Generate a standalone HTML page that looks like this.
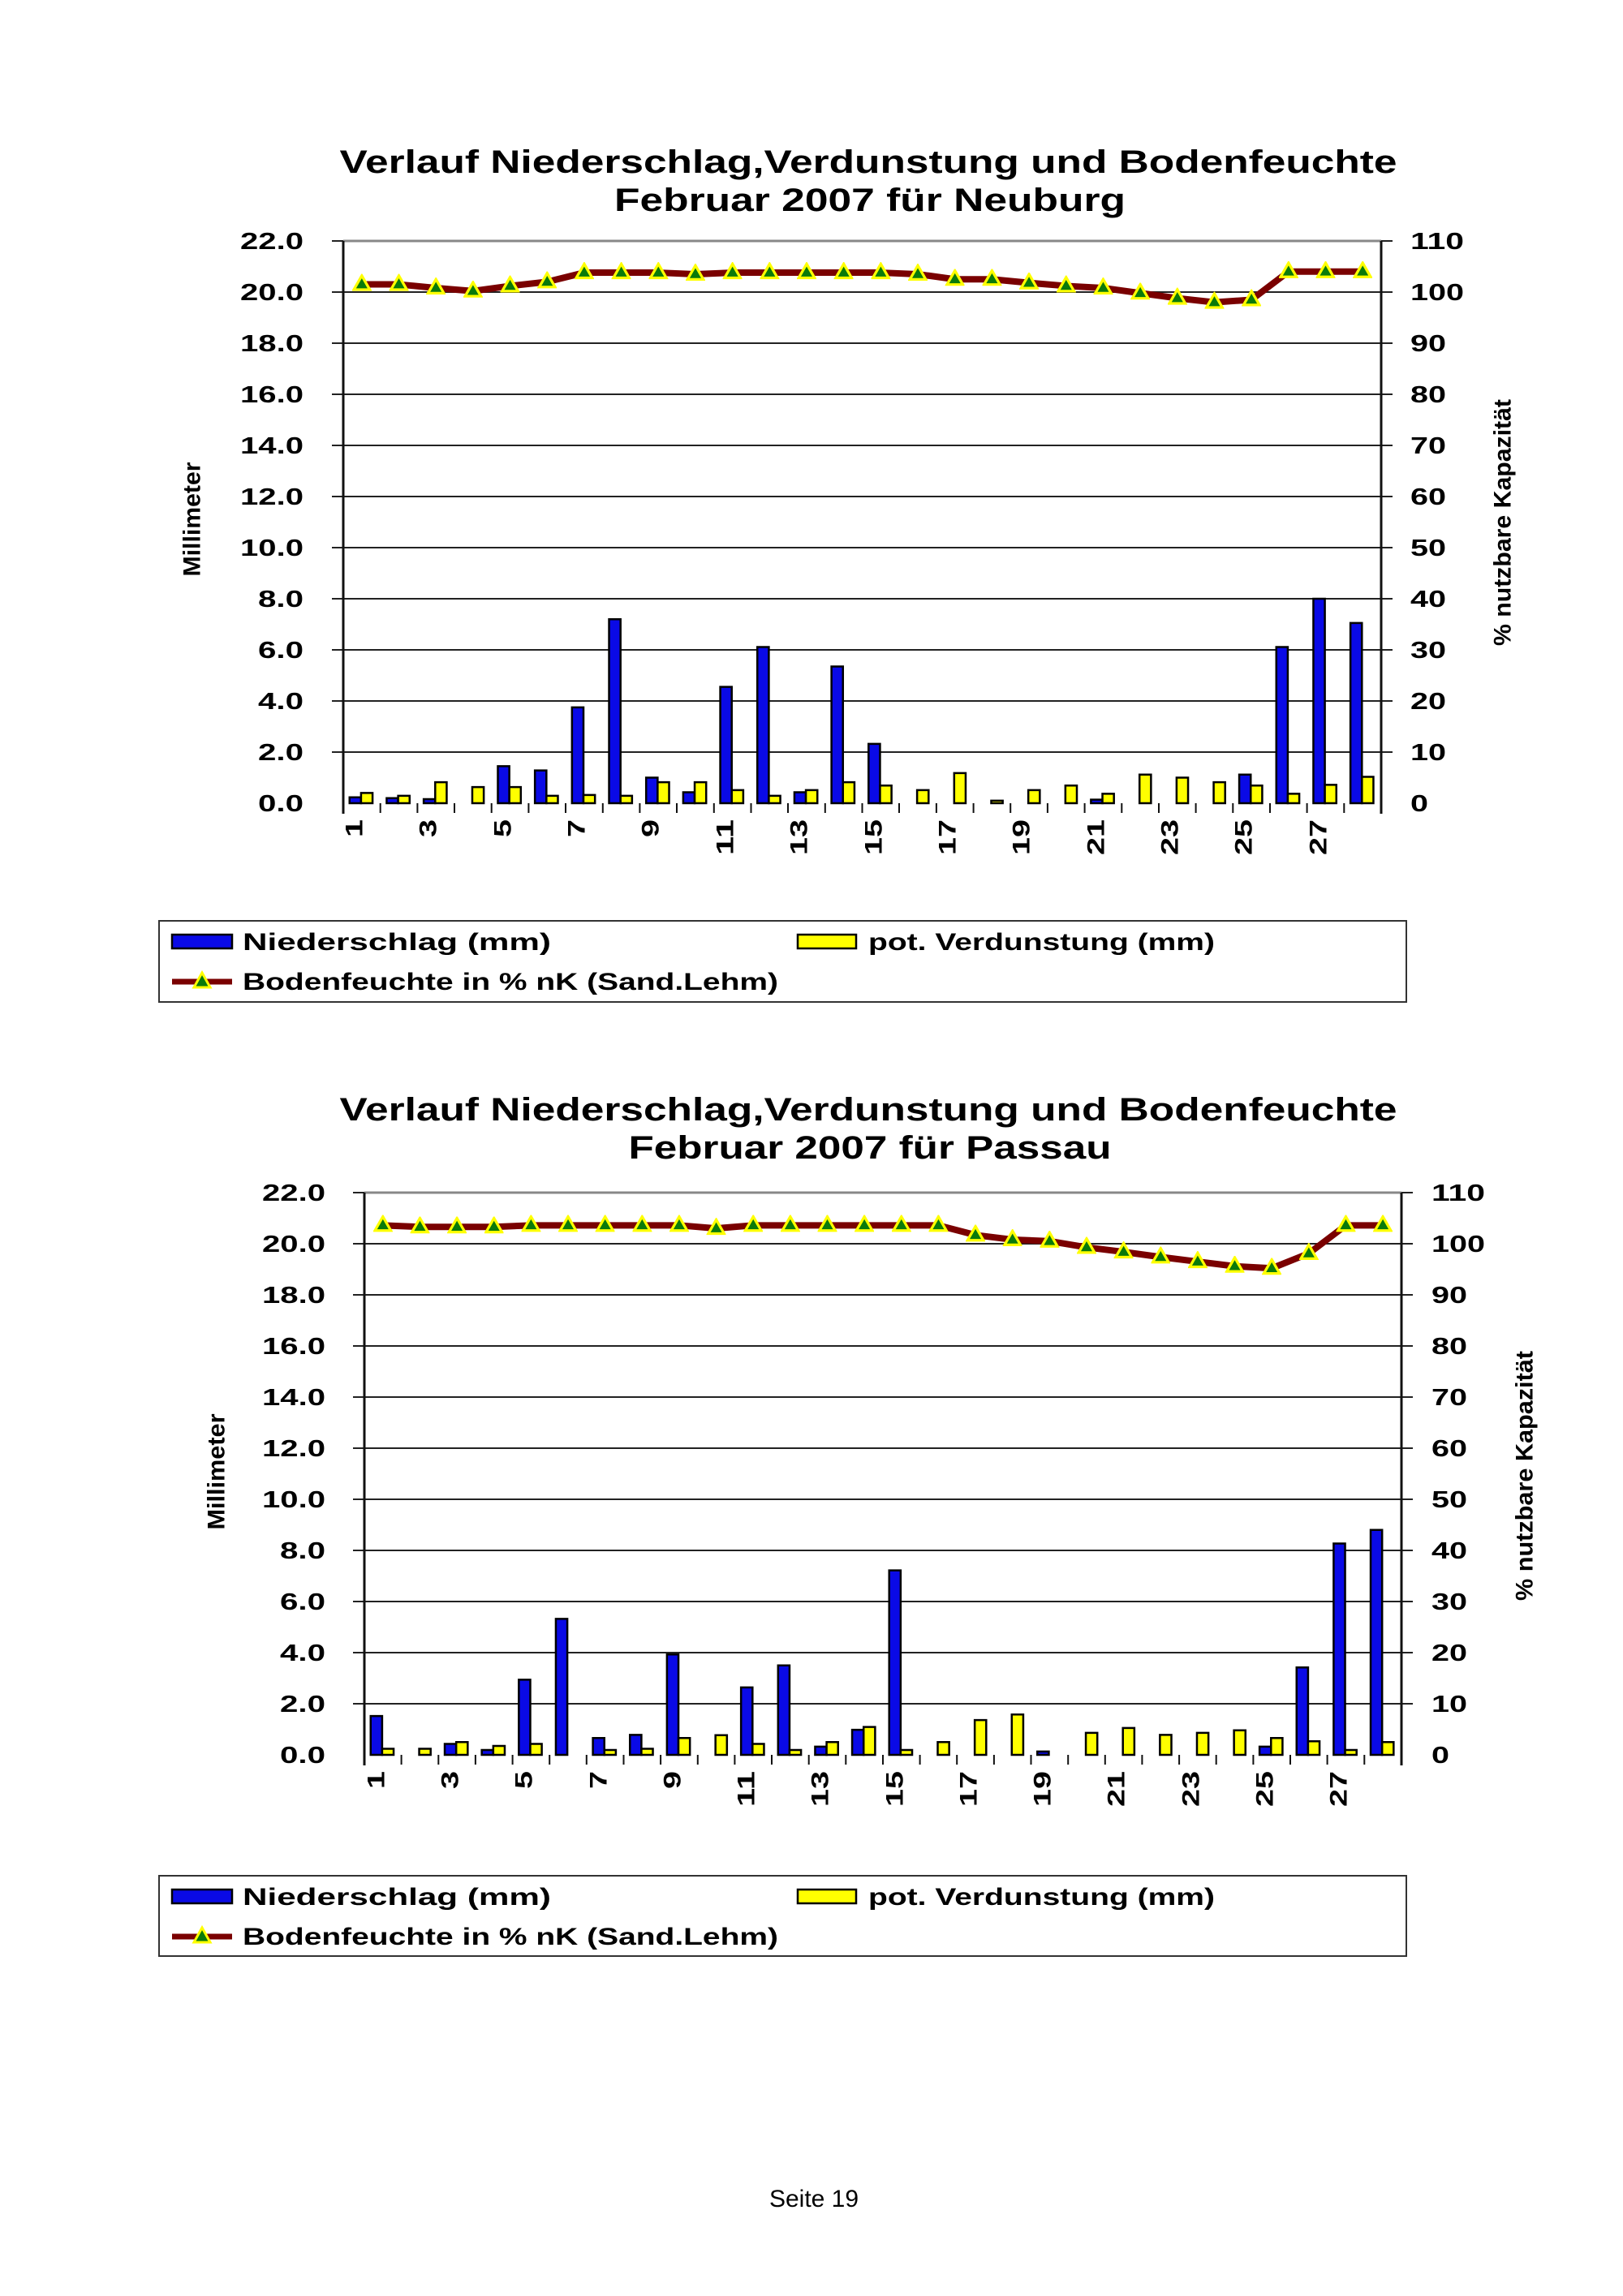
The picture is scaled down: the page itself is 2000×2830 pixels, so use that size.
<!DOCTYPE html>
<html><head><meta charset="utf-8"><style>
html,body{margin:0;padding:0;background:#fff;}
svg{display:block;}
text{font-family:"Liberation Sans",Arial,sans-serif;fill:#000;}
.b{font-weight:bold;}
.n{fill:#0a0ae6;stroke:#000;stroke-width:2.5;vector-effect:non-scaling-stroke;}
.v{fill:#ffff00;stroke:#000;stroke-width:2.5;vector-effect:non-scaling-stroke;}
.g{stroke:#222;stroke-width:2;}
.ln{fill:none;stroke:#7a0000;stroke-width:8;vector-effect:non-scaling-stroke;stroke-linejoin:round;}
.tk{font-size:29px;font-weight:bold;}
.xl{font-size:30px;font-weight:bold;}
</style></head><body>
<svg width="2000" height="2830" viewBox="0 0 2000 2830" xmlns="http://www.w3.org/2000/svg">
<defs>
<marker id="m1" markerUnits="userSpaceOnUse" viewBox="0 0 22 20" markerWidth="0.525" markerHeight="0.68" refX="11" refY="12" preserveAspectRatio="none"><polygon points="11,2 20,18 2,18" fill="#0a7a0a" stroke="#ffff00" stroke-width="3"/></marker>
<marker id="m2" markerUnits="userSpaceOnUse" viewBox="0 0 22 20" markerWidth="0.525" markerHeight="0.68" refX="11" refY="12" preserveAspectRatio="none"><polygon points="11,2 20,18 2,18" fill="#0a7a0a" stroke="#ffff00" stroke-width="3"/></marker>
</defs>
<rect width="2000" height="2830" fill="#fff"/>

<!-- ============ CHART 1 ============ -->
<text class="b" x="1070" y="213" font-size="40" text-anchor="middle" textLength="1303" lengthAdjust="spacingAndGlyphs">Verlauf Niederschlag,Verdunstung und Bodenfeuchte</text>
<text class="b" x="1072" y="260" font-size="40" text-anchor="middle" textLength="630" lengthAdjust="spacingAndGlyphs">Februar 2007 für Neuburg</text>

<g>
<line x1="423" y1="297" x2="1702" y2="297" stroke="#888" stroke-width="3"/>
<line class="g" x1="409" y1="297" x2="423" y2="297"/>
<line class="g" x1="409" y1="360" x2="1716" y2="360"/>
<line class="g" x1="409" y1="423" x2="1716" y2="423"/>
<line class="g" x1="409" y1="486" x2="1716" y2="486"/>
<line class="g" x1="409" y1="549" x2="1716" y2="549"/>
<line class="g" x1="409" y1="612" x2="1716" y2="612"/>
<line class="g" x1="409" y1="675" x2="1716" y2="675"/>
<line class="g" x1="409" y1="738" x2="1716" y2="738"/>
<line class="g" x1="409" y1="801" x2="1716" y2="801"/>
<line class="g" x1="409" y1="864" x2="1716" y2="864"/>
<line class="g" x1="409" y1="927" x2="1716" y2="927"/>
<line x1="1702" y1="297" x2="1716" y2="297" stroke="#222" stroke-width="2"/>
<line x1="423" y1="297" x2="423" y2="1003" stroke="#111" stroke-width="3"/>
<line x1="1702" y1="297" x2="1702" y2="1003" stroke="#111" stroke-width="3"/>
<path d="M468.7 990v12M514.4 990v12M560 990v12M605.7 990v12M651.4 990v12M697 990v12M742.8 990v12M788.4 990v12M834 990v12M879.8 990v12M925.5 990v12M971 990v12M1016.8 990v12M1062.5 990v12M1108 990v12M1153.9 990v12M1199.6 990v12M1245.2 990v12M1290.9 990v12M1336.6 990v12M1382.3 990v12M1428 990v12M1473.6 990v12M1519.3 990v12M1565 990v12M1610.6 990v12M1656.3 990v12" stroke="#111" stroke-width="2"/>
</g>

<g transform="translate(423,990) scale(45.68,31.5)">
<rect class="n" x="0.17" y="-0.23" width="0.31" height="0.23"/><rect class="v" x="0.48" y="-0.4" width="0.31" height="0.4"/>
<rect class="n" x="1.17" y="-0.2" width="0.31" height="0.2"/><rect class="v" x="1.48" y="-0.29" width="0.31" height="0.29"/>
<rect class="n" x="2.17" y="-0.16" width="0.31" height="0.16"/><rect class="v" x="2.48" y="-0.82" width="0.31" height="0.82"/>
<rect class="v" x="3.48" y="-0.63" width="0.31" height="0.63"/>
<rect class="n" x="4.17" y="-1.45" width="0.31" height="1.45"/><rect class="v" x="4.48" y="-0.63" width="0.31" height="0.63"/>
<rect class="n" x="5.17" y="-1.28" width="0.31" height="1.28"/><rect class="v" x="5.48" y="-0.29" width="0.31" height="0.29"/>
<rect class="n" x="6.17" y="-3.75" width="0.31" height="3.75"/><rect class="v" x="6.48" y="-0.32" width="0.31" height="0.32"/>
<rect class="n" x="7.17" y="-7.2" width="0.31" height="7.2"/><rect class="v" x="7.48" y="-0.29" width="0.31" height="0.29"/>
<rect class="n" x="8.17" y="-1.0" width="0.31" height="1.0"/><rect class="v" x="8.48" y="-0.82" width="0.31" height="0.82"/>
<rect class="n" x="9.17" y="-0.43" width="0.31" height="0.43"/><rect class="v" x="9.48" y="-0.82" width="0.31" height="0.82"/>
<rect class="n" x="10.17" y="-4.55" width="0.31" height="4.55"/><rect class="v" x="10.48" y="-0.51" width="0.31" height="0.51"/>
<rect class="n" x="11.17" y="-6.11" width="0.31" height="6.11"/><rect class="v" x="11.48" y="-0.29" width="0.31" height="0.29"/>
<rect class="n" x="12.17" y="-0.43" width="0.31" height="0.43"/><rect class="v" x="12.48" y="-0.51" width="0.31" height="0.51"/>
<rect class="n" x="13.17" y="-5.35" width="0.31" height="5.35"/><rect class="v" x="13.48" y="-0.82" width="0.31" height="0.82"/>
<rect class="n" x="14.17" y="-2.32" width="0.31" height="2.32"/><rect class="v" x="14.48" y="-0.69" width="0.31" height="0.69"/>
<rect class="v" x="15.48" y="-0.51" width="0.31" height="0.51"/>
<rect class="v" x="16.48" y="-1.18" width="0.31" height="1.18"/>
<rect class="v" x="17.48" y="-0.1" width="0.31" height="0.1"/>
<rect class="v" x="18.48" y="-0.51" width="0.31" height="0.51"/>
<rect class="v" x="19.48" y="-0.69" width="0.31" height="0.69"/>
<rect class="n" x="20.17" y="-0.14" width="0.31" height="0.14"/><rect class="v" x="20.48" y="-0.37" width="0.31" height="0.37"/>
<rect class="v" x="21.48" y="-1.12" width="0.31" height="1.12"/>
<rect class="v" x="22.48" y="-1.0" width="0.31" height="1.0"/>
<rect class="v" x="23.48" y="-0.82" width="0.31" height="0.82"/>
<rect class="n" x="24.17" y="-1.12" width="0.31" height="1.12"/><rect class="v" x="24.48" y="-0.69" width="0.31" height="0.69"/>
<rect class="n" x="25.17" y="-6.11" width="0.31" height="6.11"/><rect class="v" x="25.48" y="-0.37" width="0.31" height="0.37"/>
<rect class="n" x="26.17" y="-8.0" width="0.31" height="8.0"/><rect class="v" x="26.48" y="-0.72" width="0.31" height="0.72"/>
<rect class="n" x="27.17" y="-7.05" width="0.31" height="7.05"/><rect class="v" x="27.48" y="-1.03" width="0.31" height="1.03"/>
<polyline class="ln" marker-start="url(#m1)" marker-mid="url(#m1)" marker-end="url(#m1)" points="0.5,-20.3 1.5,-20.3 2.5,-20.16 3.5,-20.04 4.5,-20.24 5.5,-20.4 6.5,-20.76 7.5,-20.76 8.5,-20.76 9.5,-20.7 10.5,-20.76 11.5,-20.76 12.5,-20.76 13.5,-20.76 14.5,-20.76 15.5,-20.7 16.5,-20.5 17.5,-20.5 18.5,-20.36 19.5,-20.24 20.5,-20.16 21.5,-19.96 22.5,-19.76 23.5,-19.6 24.5,-19.7 25.5,-20.8 26.5,-20.8 27.5,-20.8"/>
</g>

<g class="tk" text-anchor="end">
<text x="374" y="307" textLength="78" lengthAdjust="spacingAndGlyphs">22.0</text><text x="374" y="370" textLength="78" lengthAdjust="spacingAndGlyphs">20.0</text><text x="374" y="433" textLength="78" lengthAdjust="spacingAndGlyphs">18.0</text><text x="374" y="496" textLength="78" lengthAdjust="spacingAndGlyphs">16.0</text><text x="374" y="559" textLength="78" lengthAdjust="spacingAndGlyphs">14.0</text><text x="374" y="622" textLength="78" lengthAdjust="spacingAndGlyphs">12.0</text><text x="374" y="685" textLength="78" lengthAdjust="spacingAndGlyphs">10.0</text><text x="374" y="748" textLength="56" lengthAdjust="spacingAndGlyphs">8.0</text><text x="374" y="811" textLength="56" lengthAdjust="spacingAndGlyphs">6.0</text><text x="374" y="874" textLength="56" lengthAdjust="spacingAndGlyphs">4.0</text><text x="374" y="937" textLength="56" lengthAdjust="spacingAndGlyphs">2.0</text><text x="374" y="1000" textLength="56" lengthAdjust="spacingAndGlyphs">0.0</text>
</g>
<g class="tk" text-anchor="start">
<text x="1738" y="307" textLength="66" lengthAdjust="spacingAndGlyphs">110</text><text x="1738" y="370" textLength="66" lengthAdjust="spacingAndGlyphs">100</text><text x="1738" y="433" textLength="44" lengthAdjust="spacingAndGlyphs">90</text><text x="1738" y="496" textLength="44" lengthAdjust="spacingAndGlyphs">80</text><text x="1738" y="559" textLength="44" lengthAdjust="spacingAndGlyphs">70</text><text x="1738" y="622" textLength="44" lengthAdjust="spacingAndGlyphs">60</text><text x="1738" y="685" textLength="44" lengthAdjust="spacingAndGlyphs">50</text><text x="1738" y="748" textLength="44" lengthAdjust="spacingAndGlyphs">40</text><text x="1738" y="811" textLength="44" lengthAdjust="spacingAndGlyphs">30</text><text x="1738" y="874" textLength="44" lengthAdjust="spacingAndGlyphs">20</text><text x="1738" y="937" textLength="44" lengthAdjust="spacingAndGlyphs">10</text><text x="1738" y="1000" textLength="22" lengthAdjust="spacingAndGlyphs">0</text>
</g>
<g class="xl" text-anchor="end">
<text transform="translate(436,1010) rotate(-90)" dy="0.35em" textLength="22" lengthAdjust="spacingAndGlyphs">1</text>
<text transform="translate(527,1010) rotate(-90)" dy="0.35em" textLength="22" lengthAdjust="spacingAndGlyphs">3</text>
<text transform="translate(619,1010) rotate(-90)" dy="0.35em" textLength="22" lengthAdjust="spacingAndGlyphs">5</text>
<text transform="translate(710,1010) rotate(-90)" dy="0.35em" textLength="22" lengthAdjust="spacingAndGlyphs">7</text>
<text transform="translate(801,1010) rotate(-90)" dy="0.35em" textLength="22" lengthAdjust="spacingAndGlyphs">9</text>
<text transform="translate(893,1010) rotate(-90)" dy="0.35em" textLength="44" lengthAdjust="spacingAndGlyphs">11</text>
<text transform="translate(984,1010) rotate(-90)" dy="0.35em" textLength="44" lengthAdjust="spacingAndGlyphs">13</text>
<text transform="translate(1076,1010) rotate(-90)" dy="0.35em" textLength="44" lengthAdjust="spacingAndGlyphs">15</text>
<text transform="translate(1167,1010) rotate(-90)" dy="0.35em" textLength="44" lengthAdjust="spacingAndGlyphs">17</text>
<text transform="translate(1258,1010) rotate(-90)" dy="0.35em" textLength="44" lengthAdjust="spacingAndGlyphs">19</text>
<text transform="translate(1350,1010) rotate(-90)" dy="0.35em" textLength="44" lengthAdjust="spacingAndGlyphs">21</text>
<text transform="translate(1441,1010) rotate(-90)" dy="0.35em" textLength="44" lengthAdjust="spacingAndGlyphs">23</text>
<text transform="translate(1532,1010) rotate(-90)" dy="0.35em" textLength="44" lengthAdjust="spacingAndGlyphs">25</text>
<text transform="translate(1624,1010) rotate(-90)" dy="0.35em" textLength="44" lengthAdjust="spacingAndGlyphs">27</text>
</g>
<text class="b" transform="translate(236,640) rotate(-90)" dy="0.35em" font-size="30" text-anchor="middle" textLength="141" lengthAdjust="spacingAndGlyphs">Millimeter</text>
<text class="b" transform="translate(1851,644) rotate(-90)" dy="0.35em" font-size="30" text-anchor="middle" textLength="304" lengthAdjust="spacingAndGlyphs">% nutzbare Kapazität</text>

<rect x="196" y="1135" width="1537" height="100" fill="none" stroke="#333" stroke-width="2"/>
<rect x="212" y="1152" width="74" height="17" fill="#0a0ae6" stroke="#000" stroke-width="2.5"/>
<text class="b" x="299" y="1171" font-size="30" textLength="380" lengthAdjust="spacingAndGlyphs">Niederschlag (mm)</text>
<rect x="983" y="1152" width="72" height="17" fill="#ffff00" stroke="#000" stroke-width="2.5"/>
<text class="b" x="1070" y="1171" font-size="30" textLength="427" lengthAdjust="spacingAndGlyphs">pot. Verdunstung (mm)</text>
<line x1="212" y1="1210" x2="286" y2="1210" stroke="#7a0000" stroke-width="7"/>
<polygon points="249,1199 259,1217 239,1217" fill="#0a7a0a" stroke="#ffff00" stroke-width="3"/>
<text class="b" x="299" y="1220" font-size="30" textLength="660" lengthAdjust="spacingAndGlyphs">Bodenfeuchte in % nK (Sand.Lehm)</text>

<!-- ============ CHART 2 ============ -->
<text class="b" x="1070" y="1381" font-size="40" text-anchor="middle" textLength="1303" lengthAdjust="spacingAndGlyphs">Verlauf Niederschlag,Verdunstung und Bodenfeuchte</text>
<text class="b" x="1072" y="1428" font-size="40" text-anchor="middle" textLength="595" lengthAdjust="spacingAndGlyphs">Februar 2007 für Passau</text>

<g>
<line x1="449" y1="1470" x2="1727" y2="1470" stroke="#888" stroke-width="3"/>
<line class="g" x1="435" y1="1470" x2="449" y2="1470"/>
<line class="g" x1="435" y1="1533" x2="1741" y2="1533"/>
<line class="g" x1="435" y1="1596" x2="1741" y2="1596"/>
<line class="g" x1="435" y1="1659" x2="1741" y2="1659"/>
<line class="g" x1="435" y1="1722" x2="1741" y2="1722"/>
<line class="g" x1="435" y1="1785" x2="1741" y2="1785"/>
<line class="g" x1="435" y1="1848" x2="1741" y2="1848"/>
<line class="g" x1="435" y1="1911" x2="1741" y2="1911"/>
<line class="g" x1="435" y1="1974" x2="1741" y2="1974"/>
<line class="g" x1="435" y1="2037" x2="1741" y2="2037"/>
<line class="g" x1="435" y1="2100" x2="1741" y2="2100"/>
<line x1="1727" y1="1470" x2="1741" y2="1470" stroke="#222" stroke-width="2"/>
<line x1="449" y1="1470" x2="449" y2="2176" stroke="#111" stroke-width="3"/>
<line x1="1727" y1="1470" x2="1727" y2="2176" stroke="#111" stroke-width="3"/>
<path d="M494.6 2163v12M540.3 2163v12M585.9 2163v12M631.6 2163v12M677.2 2163v12M722.8 2163v12M768.5 2163v12M814.1 2163v12M859.8 2163v12M905.4 2163v12M951 2163v12M996.7 2163v12M1042.3 2163v12M1088 2163v12M1133.6 2163v12M1179.2 2163v12M1224.9 2163v12M1270.5 2163v12M1316.2 2163v12M1361.8 2163v12M1407.4 2163v12M1453.1 2163v12M1498.7 2163v12M1544.4 2163v12M1590 2163v12M1635.6 2163v12M1681.3 2163v12" stroke="#111" stroke-width="2"/>
</g>

<g transform="translate(449,2163) scale(45.64,31.5)">
<rect class="n" x="0.17" y="-1.52" width="0.31" height="1.52"/><rect class="v" x="0.48" y="-0.24" width="0.31" height="0.24"/>
<rect class="v" x="1.48" y="-0.24" width="0.31" height="0.24"/>
<rect class="n" x="2.17" y="-0.43" width="0.31" height="0.43"/><rect class="v" x="2.48" y="-0.5" width="0.31" height="0.5"/>
<rect class="n" x="3.17" y="-0.19" width="0.31" height="0.19"/><rect class="v" x="3.48" y="-0.35" width="0.31" height="0.35"/>
<rect class="n" x="4.17" y="-2.94" width="0.31" height="2.94"/><rect class="v" x="4.48" y="-0.43" width="0.31" height="0.43"/>
<rect class="n" x="5.17" y="-5.32" width="0.31" height="5.32"/>
<rect class="n" x="6.17" y="-0.66" width="0.31" height="0.66"/><rect class="v" x="6.48" y="-0.19" width="0.31" height="0.19"/>
<rect class="n" x="7.17" y="-0.78" width="0.31" height="0.78"/><rect class="v" x="7.48" y="-0.24" width="0.31" height="0.24"/>
<rect class="n" x="8.17" y="-3.93" width="0.31" height="3.93"/><rect class="v" x="8.48" y="-0.66" width="0.31" height="0.66"/>
<rect class="v" x="9.48" y="-0.77" width="0.31" height="0.77"/>
<rect class="n" x="10.17" y="-2.64" width="0.31" height="2.64"/><rect class="v" x="10.48" y="-0.43" width="0.31" height="0.43"/>
<rect class="n" x="11.17" y="-3.5" width="0.31" height="3.5"/><rect class="v" x="11.48" y="-0.19" width="0.31" height="0.19"/>
<rect class="n" x="12.17" y="-0.32" width="0.31" height="0.32"/><rect class="v" x="12.48" y="-0.5" width="0.31" height="0.5"/>
<rect class="n" x="13.17" y="-0.98" width="0.31" height="0.98"/><rect class="v" x="13.48" y="-1.09" width="0.31" height="1.09"/>
<rect class="n" x="14.17" y="-7.22" width="0.31" height="7.22"/><rect class="v" x="14.48" y="-0.19" width="0.31" height="0.19"/>
<rect class="v" x="15.48" y="-0.5" width="0.31" height="0.5"/>
<rect class="v" x="16.48" y="-1.36" width="0.31" height="1.36"/>
<rect class="v" x="17.48" y="-1.58" width="0.31" height="1.58"/>
<rect class="n" x="18.17" y="-0.13" width="0.31" height="0.13"/>
<rect class="v" x="19.48" y="-0.86" width="0.31" height="0.86"/>
<rect class="v" x="20.48" y="-1.05" width="0.31" height="1.05"/>
<rect class="v" x="21.48" y="-0.78" width="0.31" height="0.78"/>
<rect class="v" x="22.48" y="-0.86" width="0.31" height="0.86"/>
<rect class="v" x="23.48" y="-0.96" width="0.31" height="0.96"/>
<rect class="n" x="24.17" y="-0.32" width="0.31" height="0.32"/><rect class="v" x="24.48" y="-0.66" width="0.31" height="0.66"/>
<rect class="n" x="25.17" y="-3.42" width="0.31" height="3.42"/><rect class="v" x="25.48" y="-0.53" width="0.31" height="0.53"/>
<rect class="n" x="26.17" y="-8.27" width="0.31" height="8.27"/><rect class="v" x="26.48" y="-0.19" width="0.31" height="0.19"/>
<rect class="n" x="27.17" y="-8.8" width="0.31" height="8.8"/><rect class="v" x="27.48" y="-0.5" width="0.31" height="0.5"/>
<polyline class="ln" marker-start="url(#m2)" marker-mid="url(#m2)" marker-end="url(#m2)" points="0.5,-20.72 1.5,-20.66 2.5,-20.66 3.5,-20.66 4.5,-20.72 5.5,-20.72 6.5,-20.72 7.5,-20.72 8.5,-20.72 9.5,-20.6 10.5,-20.72 11.5,-20.72 12.5,-20.72 13.5,-20.72 14.5,-20.72 15.5,-20.72 16.5,-20.34 17.5,-20.16 18.5,-20.1 19.5,-19.86 20.5,-19.68 21.5,-19.48 22.5,-19.3 23.5,-19.12 24.5,-19.04 25.5,-19.62 26.5,-20.72 27.5,-20.72"/>
</g>

<g class="tk" text-anchor="end">
<text x="401" y="1480" textLength="78" lengthAdjust="spacingAndGlyphs">22.0</text><text x="401" y="1543" textLength="78" lengthAdjust="spacingAndGlyphs">20.0</text><text x="401" y="1606" textLength="78" lengthAdjust="spacingAndGlyphs">18.0</text><text x="401" y="1669" textLength="78" lengthAdjust="spacingAndGlyphs">16.0</text><text x="401" y="1732" textLength="78" lengthAdjust="spacingAndGlyphs">14.0</text><text x="401" y="1795" textLength="78" lengthAdjust="spacingAndGlyphs">12.0</text><text x="401" y="1858" textLength="78" lengthAdjust="spacingAndGlyphs">10.0</text><text x="401" y="1921" textLength="56" lengthAdjust="spacingAndGlyphs">8.0</text><text x="401" y="1984" textLength="56" lengthAdjust="spacingAndGlyphs">6.0</text><text x="401" y="2047" textLength="56" lengthAdjust="spacingAndGlyphs">4.0</text><text x="401" y="2110" textLength="56" lengthAdjust="spacingAndGlyphs">2.0</text><text x="401" y="2173" textLength="56" lengthAdjust="spacingAndGlyphs">0.0</text>
</g>
<g class="tk" text-anchor="start">
<text x="1764" y="1480" textLength="66" lengthAdjust="spacingAndGlyphs">110</text><text x="1764" y="1543" textLength="66" lengthAdjust="spacingAndGlyphs">100</text><text x="1764" y="1606" textLength="44" lengthAdjust="spacingAndGlyphs">90</text><text x="1764" y="1669" textLength="44" lengthAdjust="spacingAndGlyphs">80</text><text x="1764" y="1732" textLength="44" lengthAdjust="spacingAndGlyphs">70</text><text x="1764" y="1795" textLength="44" lengthAdjust="spacingAndGlyphs">60</text><text x="1764" y="1858" textLength="44" lengthAdjust="spacingAndGlyphs">50</text><text x="1764" y="1921" textLength="44" lengthAdjust="spacingAndGlyphs">40</text><text x="1764" y="1984" textLength="44" lengthAdjust="spacingAndGlyphs">30</text><text x="1764" y="2047" textLength="44" lengthAdjust="spacingAndGlyphs">20</text><text x="1764" y="2110" textLength="44" lengthAdjust="spacingAndGlyphs">10</text><text x="1764" y="2173" textLength="22" lengthAdjust="spacingAndGlyphs">0</text>
</g>
<g class="xl" text-anchor="end">
<text transform="translate(463,2183) rotate(-90)" dy="0.35em" textLength="22" lengthAdjust="spacingAndGlyphs">1</text>
<text transform="translate(554,2183) rotate(-90)" dy="0.35em" textLength="22" lengthAdjust="spacingAndGlyphs">3</text>
<text transform="translate(645,2183) rotate(-90)" dy="0.35em" textLength="22" lengthAdjust="spacingAndGlyphs">5</text>
<text transform="translate(737,2183) rotate(-90)" dy="0.35em" textLength="22" lengthAdjust="spacingAndGlyphs">7</text>
<text transform="translate(828,2183) rotate(-90)" dy="0.35em" textLength="22" lengthAdjust="spacingAndGlyphs">9</text>
<text transform="translate(919,2183) rotate(-90)" dy="0.35em" textLength="44" lengthAdjust="spacingAndGlyphs">11</text>
<text transform="translate(1010,2183) rotate(-90)" dy="0.35em" textLength="44" lengthAdjust="spacingAndGlyphs">13</text>
<text transform="translate(1102,2183) rotate(-90)" dy="0.35em" textLength="44" lengthAdjust="spacingAndGlyphs">15</text>
<text transform="translate(1193,2183) rotate(-90)" dy="0.35em" textLength="44" lengthAdjust="spacingAndGlyphs">17</text>
<text transform="translate(1284,2183) rotate(-90)" dy="0.35em" textLength="44" lengthAdjust="spacingAndGlyphs">19</text>
<text transform="translate(1375,2183) rotate(-90)" dy="0.35em" textLength="44" lengthAdjust="spacingAndGlyphs">21</text>
<text transform="translate(1467,2183) rotate(-90)" dy="0.35em" textLength="44" lengthAdjust="spacingAndGlyphs">23</text>
<text transform="translate(1558,2183) rotate(-90)" dy="0.35em" textLength="44" lengthAdjust="spacingAndGlyphs">25</text>
<text transform="translate(1649,2183) rotate(-90)" dy="0.35em" textLength="44" lengthAdjust="spacingAndGlyphs">27</text>
</g>
<text class="b" transform="translate(266,1814) rotate(-90)" dy="0.35em" font-size="30" text-anchor="middle" textLength="143" lengthAdjust="spacingAndGlyphs">Millimeter</text>
<text class="b" transform="translate(1878,1819) rotate(-90)" dy="0.35em" font-size="30" text-anchor="middle" textLength="308" lengthAdjust="spacingAndGlyphs">% nutzbare Kapazität</text>

<rect x="196" y="2312" width="1537" height="99" fill="none" stroke="#333" stroke-width="2"/>
<rect x="212" y="2329" width="74" height="17" fill="#0a0ae6" stroke="#000" stroke-width="2.5"/>
<text class="b" x="299" y="2348" font-size="30" textLength="380" lengthAdjust="spacingAndGlyphs">Niederschlag (mm)</text>
<rect x="983" y="2329" width="72" height="17" fill="#ffff00" stroke="#000" stroke-width="2.5"/>
<text class="b" x="1070" y="2348" font-size="30" textLength="427" lengthAdjust="spacingAndGlyphs">pot. Verdunstung (mm)</text>
<line x1="212" y1="2387" x2="286" y2="2387" stroke="#7a0000" stroke-width="7"/>
<polygon points="249,2376 259,2394 239,2394" fill="#0a7a0a" stroke="#ffff00" stroke-width="3"/>
<text class="b" x="299" y="2397" font-size="30" textLength="660" lengthAdjust="spacingAndGlyphs">Bodenfeuchte in % nK (Sand.Lehm)</text>

<text x="1003" y="2720" font-size="30" text-anchor="middle">Seite 19</text>
</svg>
</body></html>
